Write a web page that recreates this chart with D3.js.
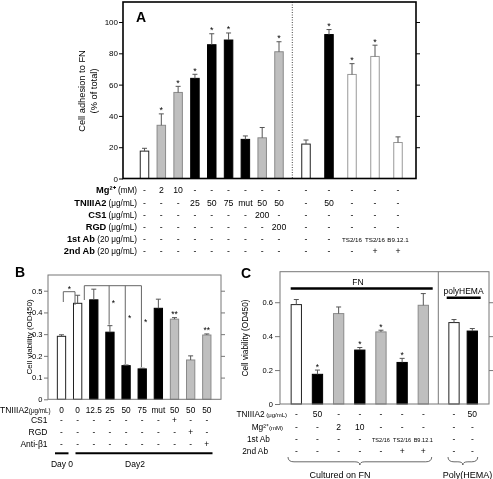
<!DOCTYPE html>
<html><head><meta charset="utf-8">
<script src="https://cdn.jsdelivr.net/npm/d3@7"></script>
<style>body{margin:0;background:#fff} svg{display:block;font-family:"Liberation Sans",Arial,sans-serif;filter:grayscale(1)}</style>
</head><body><svg id="c" width="493" height="479"></svg>
<script>
// ---------- Panel A data ----------
const aLeftValues = [17.5, 34, 55, 64, 85.5, 88.5, 25, 26, 81];
const aLeftErrors = [1.8, 7.3, 3.9, 2.6, 7, 4.5, 2.2, 6.6, 6.4];
const aLeftKinds  = ['white','gray','gray','black','black','black','black','gray','gray'];
const aLeftStars  = ['','*','*','*','*','*','','','*'];
const aRightValues = [22, 92, 66.5, 78, 23];
const aRightErrors = [2.6, 3.2, 6.9, 7.2, 3.6];
const aRightKinds  = ['white','black','open','open','open'];
const aRightStars  = ['','*','*','*',''];
const aTicks = [0, 20, 40, 60, 80, 100];
const aRowLabels = [['Mg²⁺',' (mM)'],['TNIIIA2',' (μg/mL)'],['CS1',' (μg/mL)'],['RGD',' (μg/mL)'],['1st Ab',' (20 μg/mL)'],['2nd Ab',' (20 μg/mL)']];
const aRowsLeft = [
 ['-','2','10','-','-','-','-','-','-'],
 ['-','-','-','25','50','75','mut','50','50'],
 ['-','-','-','-','-','-','-','200','-'],
 ['-','-','-','-','-','-','-','-','200'],
 ['-','-','-','-','-','-','-','-','-'],
 ['-','-','-','-','-','-','-','-','-']];
const aRowsRight = [
 ['-','-','-','-','-'],
 ['-','50','-','-','-'],
 ['-','-','-','-','-'],
 ['-','-','-','-','-'],
 ['-','-','TS2/16','TS2/16','B9.12.1'],
 ['-','-','-','+','+']];

// ---------- Panel B data ----------
const bValues = [0.29, 0.442, 0.458, 0.309, 0.155, 0.14, 0.419, 0.369, 0.181, 0.296];
const bErrors = [0.007, 0.037, 0.049, 0.03, 0.003, 0.003, 0.042, 0.007, 0.019, 0.005];
const bKinds  = ['white','white','black','black','black','black','black','gray','gray','gray'];
const bStars  = ['','','','','','','','**','','**'];
const bTicks = [0, 0.1, 0.2, 0.3, 0.4, 0.5];
const bRowLabels = ['TNIIIA2','CS1','RGD','Anti-β1'];
const bRows = [
 ['0','0','12.5','25','50','75','mut','50','50','50'],
 ['-','-','-','-','-','-','-','+','-','-'],
 ['-','-','-','-','-','-','-','-','+','-'],
 ['-','-','-','-','-','-','-','-','-','+']];
const bDays = ['Day 0','Day2'];

// ---------- Panel C data ----------
const cFnValues = [0.586, 0.175, 0.533, 0.318, 0.425, 0.245, 0.582];
const cFnErrors = [0.03, 0.025, 0.039, 0.015, 0.01, 0.024, 0.069];
const cFnKinds  = ['white','black','gray','black','gray','black','gray'];
const cFnStars  = ['','*','','*','*','*',''];
const cPolyValues = [0.48, 0.43];
const cPolyErrors = [0.018, 0.015];
const cPolyKinds  = ['white','black'];
const cTicks = [0, 0.2, 0.4, 0.6];
const cRowLabels = [['TNIIIA2',' (μg/mL)'],['Mg²⁺','(mM)'],['1st Ab',''],['2nd Ab','']];
const cRowsFn = [
 ['-','50','-','-','-','-','-'],
 ['-','-','2','10','-','-','-'],
 ['-','-','-','-','TS2/16','TS2/16','B9.12.1'],
 ['-','-','-','-','-','+','+']];
const cRowsPoly = [['-','50'],['-','-'],['-','-'],['-','-']];

// ---------- drawing ----------
const svg = d3.select('#c');
const style = {
  white: {fill:'#fff', stroke:'#222'},
  gray:  {fill:'#bfbfbf', stroke:'#8a8a8a'},
  black: {fill:'#000', stroke:'#000'},
  open:  {fill:'#fff', stroke:'#999'}
};

function bars(g, x, y, values, errors, kinds, stars, bw, starSize) {
  const idx = d3.range(values.length);
  g.selectAll(null).data(idx).enter().append('rect')
    .attr('x', i => x(i) - bw/2).attr('width', bw)
    .attr('y', i => y(values[i])).attr('height', i => y(0) - y(values[i]))
    .attr('fill', i => style[kinds[i]].fill).attr('stroke', i => style[kinds[i]].stroke)
    .attr('stroke-width', 1);
  g.selectAll(null).data(idx).enter().append('path')
    .attr('d', i => `M${x(i)},${y(values[i])}V${y(values[i]+errors[i])}M${x(i)-2.5},${y(values[i]+errors[i])}H${x(i)+2.5}`)
    .attr('stroke', '#555').attr('stroke-width', 1).attr('fill','none');
  if (stars) g.selectAll(null).data(idx.filter(i => stars[i])).enter().append('text')
    .attr('x', i => x(i)).attr('y', i => y(values[i]+errors[i]) - 0.5)
    .attr('text-anchor','middle').attr('font-size', starSize).text(i => stars[i]);
}

function frame(g, x0, x1, y, ticks, fmt, color, sw, tickLen, labelPad, fs) {
  g.append('rect').attr('x', x0).attr('y', y.range()[1]).attr('width', x1 - x0)
    .attr('height', y.range()[0] - y.range()[1]).attr('fill','none').attr('stroke', color).attr('stroke-width', sw);
  const la = g.append('g').attr('transform', `translate(${x0},0)`)
    .call(d3.axisLeft(y).tickValues(ticks).tickFormat(fmt).tickSize(tickLen).tickPadding(labelPad));
  la.select('.domain').remove();
  la.selectAll('line').attr('stroke', color);
  la.selectAll('text').attr('font-size', fs).attr('font-family','Liberation Sans, Arial, sans-serif').attr('fill','#000');
  const ra = g.append('g').attr('transform', `translate(${x1},0)`)
    .call(d3.axisLeft(y).tickValues(ticks.filter(t => t > 0)).tickFormat('').tickSize(-tickLen));
  ra.select('.domain').remove();
  ra.selectAll('line').attr('stroke', color);
}

// ===== Panel A =====
const gA = svg.append('g');
const yA = d3.scaleLinear().domain([0, 112.8]).range([178.5, 2]);
const xAL = d3.scalePoint().domain(d3.range(aLeftValues.length)).range([144.5, 279]);
const xAR = d3.scalePoint().domain(d3.range(aRightValues.length)).range([306, 398]);
bars(gA, xAL, yA, aLeftValues, aLeftErrors, aLeftKinds, aLeftStars, 8.5, 9);
bars(gA, xAR, yA, aRightValues, aRightErrors, aRightKinds, aRightStars, 8.5, 9);
gA.append('line').attr('x1', 292.3).attr('x2', 292.3).attr('y1', 2).attr('y2', 178.5)
  .attr('stroke', '#444').attr('stroke-dasharray', '1,1.5');
frame(gA, 123, 416, yA, aTicks, d3.format('d'), '#000', 1.6, 4, 1, 8);
gA.append('text').attr('x', 136).attr('y', 22).attr('font-size', 14).attr('font-weight','bold').text('A');
const aYL = gA.append('text').attr('transform', 'translate(85,91) rotate(-90)').attr('text-anchor','middle').attr('font-size', 9.3);
aYL.append('tspan').attr('x', 0).attr('dy', 0).text('Cell adhesion to FN');
aYL.append('tspan').attr('x', 0).attr('dy', 12.3).text('(% of total)');
const aRowY = [193, 206.3, 218, 229.7, 242.3, 254];
aRowLabels.forEach((lab, r) => {
  const t = gA.append('text').attr('x', 137).attr('y', aRowY[r]).attr('text-anchor','end').attr('font-size', 9.3);
  t.append('tspan').attr('font-weight','bold').text(lab[0]);
  t.append('tspan').attr('font-size', 8.2).text(lab[1]);
  aRowsLeft[r].forEach((v, i) => gA.append('text').attr('x', xAL(i)).attr('y', aRowY[r]).attr('text-anchor','middle').attr('font-size', 8.7).text(v));
  aRowsRight[r].forEach((v, i) => gA.append('text').attr('x', xAR(i)).attr('y', aRowY[r]).attr('text-anchor','middle').attr('font-size', v.length > 3 ? 6.2 : 8.7).text(v));
});

// ===== Panel B =====
const gB = svg.append('g');
const yB = d3.scaleLinear().domain([0, 0.5723]).range([399.3, 275]);
const xB = d3.scalePoint().domain(d3.range(bValues.length)).range([61.5, 206.8]);
bars(gB, xB, yB, bValues, bErrors, bKinds, bStars, 8.3, 8.5);
frame(gB, 48, 221, yB, bTicks, d => d === 0 ? '0' : d.toFixed(1), '#777', 1, 4, 1.5, 7.5);
// brackets
const brk = '#666';
gB.append('path').attr('d', `M63.3,302V291.7H75V305`).attr('fill','none').attr('stroke', brk);
gB.append('text').attr('x', 69.3).attr('y', 292).attr('text-anchor','middle').attr('font-size', 8.5).text('*');
const topY = 285.7;
gB.append('path').attr('d', `M84.3,300V${topY}H${xB(5)-0.8}`).attr('fill','none').attr('stroke', brk);
[3,4,5].forEach(i => gB.append('line').attr('x1', xB(i)-0.8).attr('x2', xB(i)-0.8).attr('y1', topY)
   .attr('y2', yB(bValues[i]+bErrors[i]) - 1).attr('stroke', brk));
[[3,0.43],[4,0.36],[5,0.34]].forEach(([i,v]) => gB.append('text').attr('x', xB(i)+3.5).attr('y', yB(v))
   .attr('text-anchor','middle').attr('font-size', 8.5).text('*'));
gB.append('text').attr('x', 15).attr('y', 277).attr('font-size', 14).attr('font-weight','bold').text('B');
gB.append('text').attr('transform', 'translate(31.5,337) rotate(-90)').attr('text-anchor','middle').attr('font-size', 8).text('Cell viability (OD450)');
const bRowY = [412.5, 423.3, 434.8, 446.5];
bRowLabels.forEach((lab, r) => {
  const t = gB.append('text').attr('x', r === 0 ? 0 : 47.5).attr('y', bRowY[r]).attr('text-anchor', r === 0 ? 'start' : 'end').attr('font-size', 8.5);
  t.append('tspan').text(lab);
  if (r === 0) t.append('tspan').attr('font-size', 6.3).text('(μg/mL)');
  bRows[r].forEach((v, i) => gB.append('text').attr('x', xB(i)).attr('y', bRowY[r]).attr('text-anchor','middle').attr('font-size', 8.3).text(v));
});
gB.append('line').attr('x1', 55).attr('x2', 68.5).attr('y1', 453.3).attr('y2', 453.3).attr('stroke','#000').attr('stroke-width', 2);
gB.append('line').attr('x1', 75.5).attr('x2', 212.5).attr('y1', 453.3).attr('y2', 453.3).attr('stroke','#000').attr('stroke-width', 2);
gB.append('text').attr('x', 62).attr('y', 467).attr('text-anchor','middle').attr('font-size', 8.5).text(bDays[0]);
gB.append('text').attr('x', 135).attr('y', 467).attr('text-anchor','middle').attr('font-size', 8.5).text(bDays[1]);

// ===== Panel C =====
const gC = svg.append('g');
const yC = d3.scaleLinear().domain([0, 0.78]).range([404, 271.7]);
const xCF = d3.scalePoint().domain(d3.range(cFnValues.length)).range([296.3, 423.3]);
const xCP = d3.scalePoint().domain(d3.range(cPolyValues.length)).range([454, 472.3]);
bars(gC, xCF, yC, cFnValues, cFnErrors, cFnKinds, cFnStars, 10.3, 8.5);
bars(gC, xCP, yC, cPolyValues, cPolyErrors, cPolyKinds, null, 10.3, 8.5);
frame(gC, 280, 489, yC, cTicks, d => d === 0 ? '0' : d.toFixed(1), '#777', 1, 5, 2, 7.5);
gC.append('line').attr('x1', 438.3).attr('x2', 438.3).attr('y1', 271.7).attr('y2', 404).attr('stroke','#777');
gC.append('line').attr('x1', 290.7).attr('x2', 432.7).attr('y1', 288.5).attr('y2', 288.5).attr('stroke','#000').attr('stroke-width', 2.6);
gC.append('text').attr('x', 358).attr('y', 285).attr('text-anchor','middle').attr('font-size', 8.5).text('FN');
gC.append('line').attr('x1', 446.7).attr('x2', 480.7).attr('y1', 297.7).attr('y2', 297.7).attr('stroke','#000').attr('stroke-width', 2.6);
gC.append('text').attr('x', 463.5).attr('y', 294).attr('text-anchor','middle').attr('font-size', 8.5).text('polyHEMA');
gC.append('text').attr('x', 241).attr('y', 278).attr('font-size', 14).attr('font-weight','bold').text('C');
gC.append('text').attr('transform', 'translate(248,338) rotate(-90)').attr('text-anchor','middle').attr('font-size', 8.2).text('Cell viability (OD450)');
const cRowY = [416.5, 429.5, 441.5, 453.5];
const cLabX = [287, 283, 270, 268];
cRowLabels.forEach((lab, r) => {
  const t = gC.append('text').attr('x', cLabX[r]).attr('y', cRowY[r]).attr('text-anchor','end').attr('font-size', 8.3);
  t.append('tspan').text(lab[0]);
  if (lab[1]) t.append('tspan').attr('font-size', 6).text(lab[1]);
  cRowsFn[r].forEach((v, i) => gC.append('text').attr('x', xCF(i)).attr('y', cRowY[r]).attr('text-anchor','middle').attr('font-size', v.length > 3 ? 5.6 : 8.5).text(v));
  cRowsPoly[r].forEach((v, i) => gC.append('text').attr('x', xCP(i)).attr('y', cRowY[r]).attr('text-anchor','middle').attr('font-size', 8.5).text(v));
});
function brace(x1, x2, y, h) {
  const m = (x1 + x2) / 2, yy = y + h * 0.6;
  return `M${x1},${y}Q${x1},${yy} ${x1+6},${yy}L${m-5},${yy}Q${m},${yy} ${m},${y+h}Q${m},${yy} ${m+5},${yy}L${x2-6},${yy}Q${x2},${yy} ${x2},${y}`;
}
gC.append('path').attr('d', brace(288, 431.7, 457, 8)).attr('fill','none').attr('stroke','#444').attr('stroke-width', 0.8);
gC.append('path').attr('d', brace(448, 477.7, 457, 8)).attr('fill','none').attr('stroke','#444').attr('stroke-width', 0.8);
gC.append('text').attr('x', 340).attr('y', 478).attr('text-anchor','middle').attr('font-size', 9).text('Cultured on FN');
gC.append('text').attr('x', 467.5).attr('y', 478).attr('text-anchor','middle').attr('font-size', 9).text('Poly(HEMA)');
</script></body></html>
